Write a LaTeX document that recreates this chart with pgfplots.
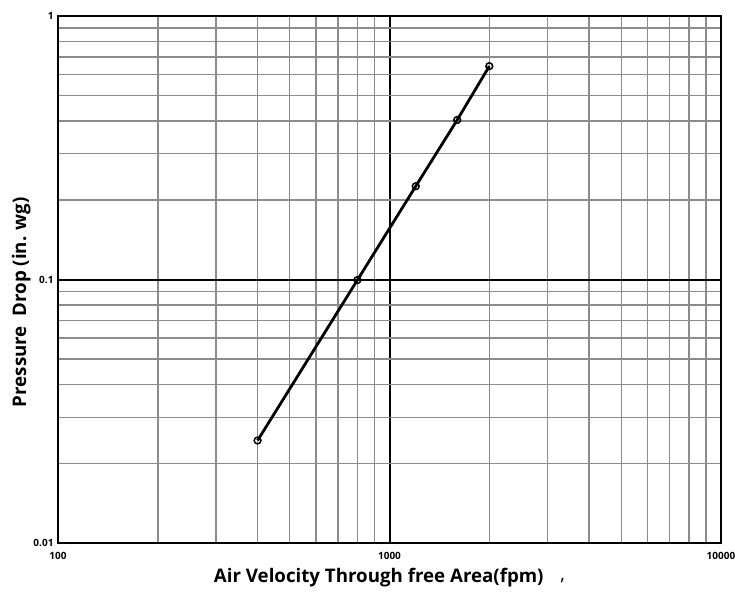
\documentclass[border=0pt]{standalone}
\usepackage{fontspec}
\setmainfont{Open Sans}
\usepackage{pgfplots}
\pgfplotsset{compat=1.18}
\begin{document}
\begin{tikzpicture}
\begin{loglogaxis}[
  scale only axis,
  width=663pt, height=527pt,
  xmin=100, xmax=10000, ymin=0.01, ymax=1,
  xtick={100,1000,10000}, xticklabels={100,1000,10000},
  ytick={0.01,0.1,1}, yticklabels={0.01,0.1,1},
  /pgf/number format/assume math mode=true,
  ticklabel style={font=\bfseries\fontsize{10}{12}\selectfont},
  xticklabel style={yshift=-6pt},
  yticklabel style={xshift=-1pt},
  major tick length=0pt, minor tick length=0pt,
  grid=both,
  minor grid style={draw=black!45, line width=1.4pt},
  major grid style={draw=black, line width=2pt},
  axis line style={line width=2.8pt},
  xlabel={Air Velocity Through free Area(fpm)\hspace{0.9em}\raisebox{0.2ex}{\normalfont,}},
  ylabel={Pressure\ \ Drop (in. wg)},
  label style={font=\bfseries\fontsize{18.7}{22}\selectfont},
  xlabel style={yshift=-1pt, xshift=0pt},
  ylabel style={at={(ticklabel cs:0.457)}, yshift=-4pt},
]
\addplot[black, line width=2.8pt, mark=o, mark size=3.4pt,
  mark options={fill=white, line width=1.5pt}] coordinates {
  (400,0.0245) (800,0.0995) (1200,0.226) (1600,0.403) (2000,0.645)
};
\end{loglogaxis}
\pgfresetboundingbox
\path (-58pt,-49pt) rectangle (677pt,543pt);
\end{tikzpicture}
\end{document}
